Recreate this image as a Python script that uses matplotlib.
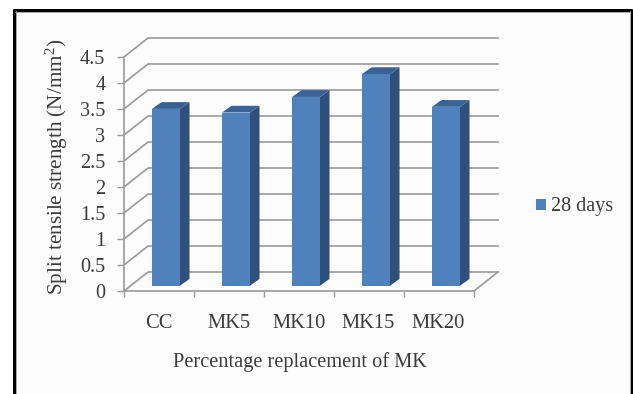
import matplotlib
matplotlib.use("Agg")
import matplotlib.pyplot as plt
from matplotlib.patches import Polygon, Rectangle
from matplotlib.lines import Line2D

categories = ["CC", "MK5", "MK10", "MK15", "MK20"]
values = [3.40, 3.33, 3.63, 4.07, 3.44]
series_name = "28 days"
y_ticks = [0, 0.5, 1, 1.5, 2, 2.5, 3, 3.5, 4, 4.5]
y_labels = ["0", "0.5", "1", "1.5", "2", "2.5", "3", "3.5", "4", "4.5"]
x_label = "Percentage replacement of MK"
y_label = "Split tensile strength (N/mm$^{2}$)"

W, H = 633, 394
plt.rcParams["font.family"] = ["Liberation Serif", "DejaVu Serif"]
plt.rcParams["mathtext.fontset"] = "custom"
plt.rcParams["mathtext.rm"] = "Liberation Serif"
plt.rcParams["mathtext.default"] = "rm"

TXT = "#3c3c3c"
GRID = "#9a9a9a"
FRONT, SIDE, TOP = "#4f81bd", "#2f4f7d", "#3a6294"

fig = plt.figure(figsize=(W / 100, H / 100), dpi=100, facecolor="white")
# panel
fig.add_artist(Rectangle((14 / W, 0), (631 - 14) / W, 1 - 10 / H, transform=fig.transFigure,
                         facecolor="#fdfdfd", edgecolor="none", zorder=-5))
# frame: open at the bottom
for xs, ys, lw in [((13.5, 13.5), (9, 394), 3.0), ((13, 632), (9.5, 9.5), 3.0), ((631.5, 631.5), (9, 394), 3.0)]:
    fig.add_artist(Line2D([x / W for x in xs], [1 - y / H for y in ys], color="black", lw=lw * 0.72,
                          transform=fig.transFigure, solid_capstyle="butt"))
for xs, ys in [((15.5, 15.5), (11, 394)), ((15, 630), (11.5, 11.5)), ((630, 630), (11, 394))]:
    fig.add_artist(Line2D([x / W for x in xs], [1 - y / H for y in ys], color="#9a9a9a", lw=0.6,
                          transform=fig.transFigure))

ax = fig.add_axes([124 / W, 1 - 291 / H, 350 / W, 234 / H], zorder=2)
ax.patch.set_alpha(0)
ax.set_xlim(0, 5)
ax.set_ylim(0, 4.5)
for s in ("top", "right"):
    ax.spines[s].set_visible(False)
for s in ("left", "bottom"):
    ax.spines[s].set_color(GRID)
    ax.spines[s].set_linewidth(1.2)

# oblique depth of the wall, in axis units
wx, wy = 24 / 70, 19 / 52
for v in y_ticks:
    ax.plot([0, wx, 5 + wx], [v, v + wy, v + wy], color=GRID, lw=1.2, clip_on=False, zorder=1)
ax.plot([5, 5 + wx], [0, wy], color=GRID, lw=1.2, clip_on=False, zorder=1)

# bars
off_x, off_y = 0.10, 0.102
bw, dx, dy = 0.40, 0.136, 0.13
for i, v in enumerate(values):
    x0 = i + 0.5 + off_x - bw / 2
    x1 = x0 + bw
    y0 = off_y
    y1 = off_y + v
    ax.add_patch(Polygon([(x1, y0), (x1 + dx, y0 + dy), (x1 + dx, y1 + dy), (x1, y1)],
                         facecolor=SIDE, edgecolor="none", clip_on=False, zorder=3))
    ax.add_patch(Polygon([(x0, y1), (x1, y1), (x1 + dx, y1 + dy), (x0 + dx, y1 + dy)],
                         facecolor=TOP, edgecolor="none", clip_on=False, zorder=3))
    ax.add_patch(Rectangle((x0, y0), bw, v, facecolor=FRONT, edgecolor="none", clip_on=False, zorder=4))

ax.set_yticks(y_ticks, y_labels, fontsize=14.6, color=TXT)
ax.set_xticks(range(6), [""] * 6)
ax.tick_params(axis="y", length=5, width=1.0, color=GRID, pad=8.5)
ax.tick_params(axis="x", length=4.3, width=1.0, color=GRID)

trans = fig.transFigure
for i, c in enumerate(categories):
    px = [158.5, 229, 299, 368.5, 438.5][i]
    fig.text(px / W, 1 - 323.5 / H, c, ha="center", va="center", fontsize=14.8, color=TXT)
fig.text(300 / W, 1 - 362 / H, x_label, ha="center", va="center", fontsize=14.7, color=TXT)
fig.text(57 / W, 1 - 167 / H, y_label, ha="center", va="center", rotation=90, fontsize=15.2, color=TXT)

# legend
fig.add_artist(Rectangle((536 / W, 1 - 210 / H), 10 / W, 11 / H, transform=trans, facecolor=FRONT, edgecolor="none"))
fig.text(551 / W, 1 - 206 / H, series_name, ha="left", va="center", fontsize=14.5, color=TXT)

fig.savefig("out.png", dpi=100)
